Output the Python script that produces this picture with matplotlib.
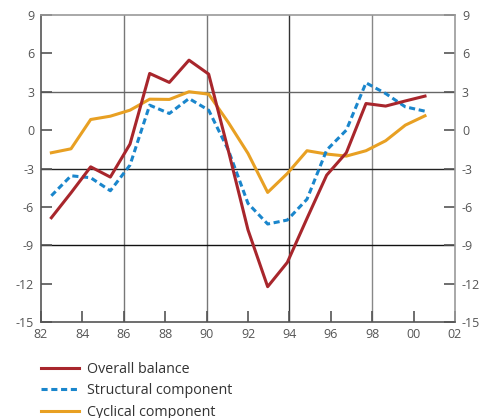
import numpy as np
import matplotlib
matplotlib.use('Agg')
import matplotlib.pyplot as plt

# Budget balance and its components, % of GDP
# points are plotted a bit under one year apart (as in the original)
x_pos = [82.5, 83.45, 84.4, 85.35, 86.3, 87.25, 88.2, 89.15, 90.1, 91.05,
         92.0, 92.95, 93.9, 94.85, 95.8, 96.75, 97.7, 98.65, 99.6, 100.55]
overall = [-6.85, -4.9, -2.87, -3.67, -1.09, 4.43, 3.73, 5.47, 4.38, -1.6,
           -7.8, -12.24, -10.34, -6.9, -3.52, -1.77, 2.08, 1.88, 2.28, 2.66]
structural = [-5.13, -3.57, -3.72, -4.74, -2.73, 1.95, 1.3, 2.47, 1.56, -1.56,
              -5.73, -7.34, -7.03, -5.4, -1.56, 0.0, 3.7, 2.86, 1.82, 1.48]
cyclical = [-1.77, -1.46, 0.83, 1.09, 1.56, 2.42, 2.4, 3.0, 2.81, 0.6,
            -1.82, -4.87, -3.39, -1.61, -1.87, -2.03, -1.61, -0.83, 0.39, 1.12]

x_ticks = list(range(82, 103, 2))
x_labels = ['82', '84', '86', '88', '90', '92', '94', '96', '98', '00', '02']
y_ticks = list(range(-15, 10, 3))

plt.rcParams['font.family'] = ['Open Sans', 'DejaVu Sans']
plt.rcParams['axes.unicode_minus'] = False

fig = plt.figure(figsize=(4.83, 4.18), dpi=100)
ax = fig.add_axes([41 / 483, 1 - 322 / 418, 414 / 483, 307 / 418])

# grid lines every 4 years / 6 points
for xv, c in zip([86, 90, 94, 98], ['#777777', '#777777', '#333333', '#888888']):
    ax.axvline(xv, color=c, lw=1.0, zorder=1)
for yv, c in zip([3, -3, -9], ['#666666', '#222222', '#111111']):
    ax.axhline(yv, color=c, lw=1.0, zorder=1)

l1, = ax.plot(x_pos, overall, color='#a8262c', lw=2.2, zorder=4, label='Overall balance')
l2, = ax.plot(x_pos, structural, color='#1a86cc', lw=2.2, dashes=(2, 1.2), zorder=3,
              label='Structural component')
l3, = ax.plot(x_pos, cyclical, color='#e8a023', lw=2.2, zorder=2, label='Cyclical component')

ax.set_xlim(82, 102)
ax.set_ylim(-15, 9)
ax.set_xticks(x_ticks)
ax.set_xticklabels(x_labels)
ax.set_yticks(y_ticks)
ax.tick_params(axis='both', direction='in', length=8, width=1.2, color='#555555',
               labelsize=9, labelcolor='#555555')
ax.tick_params(axis='y', right=True, labelright=True, pad=5)
ax.tick_params(axis='x', pad=4)

for side in ['left', 'bottom']:
    ax.spines[side].set_color('#555555')
    ax.spines[side].set_linewidth(1.2)
for side in ['top', 'right']:
    ax.spines[side].set_color('#999999')
    ax.spines[side].set_linewidth(1.2)

fig.legend(handles=[l1, l2, l3], loc='upper left', bbox_to_anchor=(35 / 483, 1 - 356 / 418),
           frameon=False, fontsize=10.3, handlelength=2.66, handletextpad=0.56,
           labelspacing=0.47, labelcolor='#333333', borderaxespad=0)

fig.savefig('out.png', dpi=100)
